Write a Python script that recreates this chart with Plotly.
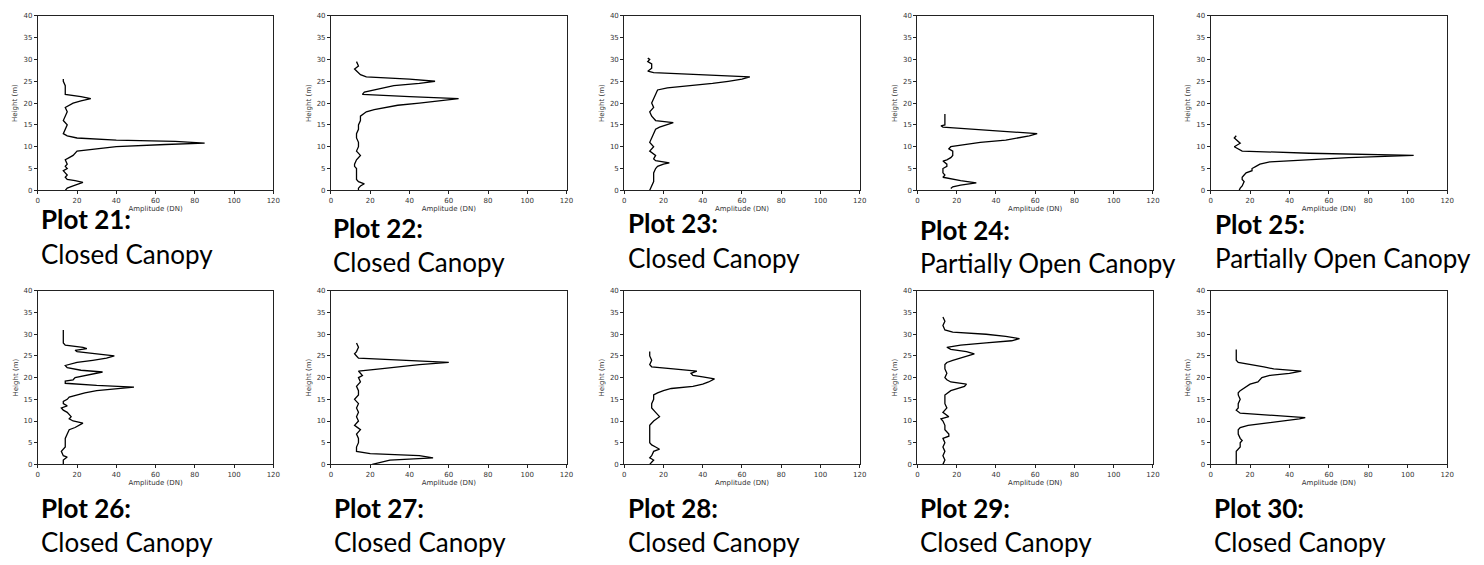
import plotly.graph_objects as go

# ---------------- data ----------------
plot_ids = ["21", "22", "23", "24", "25", "26", "27", "28", "29", "30"]
canopy = ["Closed Canopy", "Closed Canopy", "Closed Canopy", "Partially Open Canopy",
          "Partially Open Canopy", "Closed Canopy", "Closed Canopy", "Closed Canopy",
          "Closed Canopy", "Closed Canopy"]

h21 = [0, 0.5, 1, 1.5, 1.8, 2.2, 2.5, 3, 3.5, 4, 4.5, 5, 5.5, 6, 7, 7.5, 8, 9, 9.5, 10, 10.5, 10.8,
       11.2, 11.5, 12, 12.5, 13, 14, 15, 16, 17, 18, 19, 20, 20.5, 21, 21.5, 22, 23, 24, 25, 25.5]
a21 = [14, 15, 18, 21, 23, 19, 15, 14, 15, 14, 13, 15, 14, 15, 14, 16, 18, 20, 30, 40, 65, 85,
       70, 40, 20, 15, 13, 14, 15, 13, 14, 15, 14, 18, 22, 27, 22, 14, 14, 14, 13, 13]

h22 = [0, 0.5, 1, 1.5, 2, 2.5, 3, 4, 5, 5.5, 6, 7, 8, 9, 10, 11, 12, 13, 14, 15, 16, 17, 18, 18.5,
       19, 19.5, 20, 20.5, 21, 21.5, 22, 22.5, 23, 23.5, 24, 24.5, 25, 25.5, 26, 26.5, 27, 27.8,
       28.5, 29.5]
a22 = [14, 14, 15, 17, 14, 13, 13, 13, 13, 12, 12, 13, 15, 13, 14, 14, 13, 13, 14, 14, 15, 15, 18, 22,
       28, 34, 45, 55, 65, 40, 16, 17, 22, 27, 32, 45, 53, 40, 18, 15, 14, 12, 14, 13]

h23 = [0, 1, 2, 3, 4, 5, 5.5, 6, 6.3, 6.8, 7.2, 8, 9, 10, 11, 12, 13, 14, 14.5, 15, 15.5, 16, 17,
       18, 19, 20, 21, 22, 23, 23.5, 24, 24.5, 25, 25.5, 26, 26.5, 27, 27.3, 28, 29, 29.5, 30, 30.3]
a23 = [13, 14, 15, 15, 15, 16, 17, 20, 23, 16, 15, 16, 13, 15, 13, 14, 15, 16, 18, 22, 25, 16, 14,
       13, 15, 14, 15, 16, 17, 22, 35, 45, 53, 60, 64, 40, 15, 12, 14, 14, 12, 13, 12]

h24 = [0.4, 0.8, 1.2, 1.7, 2.2, 2.7, 3, 3.5, 4, 5, 5.5, 6, 6.7, 7, 7.5, 8, 9, 9.5, 10, 10.5, 11,
       11.5, 12, 12.5, 13, 13.5, 14, 14.5, 14.8, 15, 16, 17.5]
a24 = [17, 18, 22, 30, 22, 15, 13, 14, 13, 13, 15, 15, 13, 15, 17, 18, 18, 16, 17, 24, 32,
       45, 52, 57, 61, 45, 25, 13, 12, 14, 14, 14]

h25 = [0, 0.5, 1, 2, 2.5, 3, 3.5, 4, 4.5, 5, 5.5, 6, 6.5, 7, 7.5, 8, 8.5, 9, 9.5, 10, 10.8, 11.5,
       12, 12.5]
a25 = [14.5, 15, 16, 17, 16, 16, 17, 18, 21, 21, 23, 25, 30, 50, 70, 103, 50, 16, 14, 12, 15, 13,
       12, 13]

h26 = [0, 1, 1.7, 2, 3, 4, 5, 6, 7, 8, 8.5, 9, 9.5, 10, 10.5, 11, 12, 12.5, 13, 13.5, 14, 14.5, 15,
       15.5, 16, 16.5, 17, 17.5, 17.8, 18.2, 18.7, 19.2, 19.5, 20, 20.5, 21, 21.3, 21.7, 22.3, 22.8,
       23.5, 24, 24.5, 25, 25.5, 26, 26.3, 26.7, 27, 27.5, 28, 29, 30, 31]
a26 = [13, 13, 15, 13, 12, 14, 14, 14, 15, 16, 19, 21, 23, 18, 16, 17, 15, 13, 12, 15, 13, 13, 15,
       16, 20, 24, 30, 45, 49, 30, 14, 14, 18, 19, 24, 30, 33, 22, 15, 14,
       20, 28, 35, 39, 30, 20, 19, 25, 23, 14, 13, 13, 13, 13]

h27 = [0, 0.5, 1, 1.5, 2, 2.5, 3, 4, 5, 6, 7, 8, 9, 10, 11, 12, 13, 14, 15, 16, 17, 18, 19, 20,
       20.5, 21, 21.5, 22, 22.5, 23, 23.5, 24, 24.5, 25, 25.5, 26, 27, 28]
a27 = [21, 25, 30, 52, 45, 20, 13, 13, 14, 14, 13, 15, 12, 14, 13, 14, 13, 14, 12, 14, 14, 13, 15, 14,
       16, 15, 14, 25, 35, 45, 60, 40, 14, 13, 12, 13, 14, 13]

h28 = [0, 0.5, 1, 1.5, 2, 3, 3.5, 4, 4.5, 5, 6, 7, 8, 9, 10, 11, 12, 13, 14, 15, 16, 16.5, 17,
       17.5, 18, 18.5, 19, 19.7, 20.2, 20.5, 21, 21.5, 22, 22.5, 23, 24, 25, 26]
a28 = [13, 14, 15, 13, 14, 15, 18, 16, 14, 13, 13, 13, 13, 13, 15, 18, 16, 14, 14, 15, 15, 17, 20,
       24, 35, 40, 43, 46, 40, 35, 34, 37, 25, 14, 13, 14, 13, 13]

h29 = [0, 1, 2, 3, 4, 5, 6, 6.5, 7, 8, 9, 10, 10.5, 11, 12, 13, 14, 15, 16, 17, 17.5, 18, 18.5,
       19, 19.5, 20, 21, 22, 23, 23.5, 24, 24.5, 25, 25.5, 26, 26.5, 27, 27.5, 28, 28.5, 29, 29.5,
       30, 30.5, 31, 32, 33, 34]
a29 = [13, 14, 13, 14, 13, 14, 13, 16, 16, 14, 14, 13, 12, 16, 13, 15, 14, 14, 14, 17, 20, 24, 25,
       17, 15, 14, 15, 14, 14, 15, 18, 22, 25, 29, 25, 17, 15, 22, 35, 48, 52, 45,
       35, 18, 14, 13, 14, 13]

h30 = [0, 1, 2, 3, 4, 5, 5.5, 6, 7, 8, 8.5, 9, 9.5, 10, 10.5, 10.8, 11.3, 11.8, 12.5, 13, 14, 15,
       16, 16.5, 17, 18, 18.5, 19, 19.5, 20, 20.5, 21, 21.5, 22, 22.5, 23, 23.5, 24, 25, 26, 26.5]
a30 = [13, 13, 13, 13, 15, 15, 16, 15, 14, 14, 15, 19, 28, 38, 45, 48, 30, 15, 13, 14, 14, 15,
       14, 14, 15, 18, 20, 24, 25, 26, 30, 40, 46, 32, 27, 20, 14, 13, 13, 13, 13]

heights = [h21, h22, h23, h24, h25, h26, h27, h28, h29, h30]
amps = [a21, a22, a23, a24, a25, a26, a27, a28, a29, a30]

x_ticks = [0, 20, 40, 60, 80, 100, 120]
y_ticks = [0, 5, 10, 15, 20, 25, 30, 35, 40]

# ---------------- layout ----------------
W, H = 1484, 565
col_left = [36, 331, 626, 921, 1216]
col_right = [273, 568, 863, 1158, 1454]
row_top = [12, 291]
row_bot = [189, 467]
label_x = [37, 331, 628, 922, 1218, 37, 332, 628, 922, 1217]
label_y1 = [218, 227, 222, 229, 223, 511, 511, 511, 511, 511]
label_y2 = [254, 262, 258, 263, 258, 546, 546, 546, 546, 546]

fig = go.Figure()
annotations = []
layout_axes = {}
tick_font = dict(family="DejaVu Sans", size=7, color="#333")
for i in range(10):
    r, c = divmod(i, 5)
    n = i + 1
    xa = "x" if n == 1 else f"x{n}"
    ya = "y" if n == 1 else f"y{n}"
    fig.add_trace(go.Scatter(x=amps[i], y=heights[i], mode="lines",
                             line=dict(color="black", width=1.3),
                             xaxis=xa, yaxis=ya, showlegend=False, hoverinfo="x+y"))
    axcommon = dict(showline=True, linecolor="#222", linewidth=1, mirror=True,
                    ticks="outside", ticklen=3, tickwidth=1, tickcolor="#222",
                    showgrid=False, zeroline=False, tickfont=tick_font)
    layout_axes["xaxis" if n == 1 else f"xaxis{n}"] = dict(
        axcommon, domain=[col_left[c] / W, col_right[c] / W], range=[0, 120],
        tickvals=x_ticks, anchor=ya,
        title=dict(text="Amplitude (DN)", font=tick_font, standoff=2))
    layout_axes["yaxis" if n == 1 else f"yaxis{n}"] = dict(
        axcommon, domain=[1 - row_bot[r] / H, 1 - row_top[r] / H], range=[0, 40],
        tickvals=y_ticks, anchor=xa,
        title=dict(text="Height (m)", font=tick_font, standoff=4))
    annotations.append(dict(text=f"<b>Plot {plot_ids[i]}:</b>", x=label_x[i] / W, y=1 - label_y1[i] / H,
                            xref="paper", yref="paper", xanchor="left", yanchor="middle",
                            showarrow=False, font=dict(family="Lato", size=26, color="black")))
    annotations.append(dict(text=canopy[i], x=label_x[i] / W, y=1 - label_y2[i] / H,
                            xref="paper", yref="paper", xanchor="left", yanchor="middle",
                            showarrow=False, font=dict(family="Lato", size=26, color="black")))

fig.update_layout(width=W, height=H, margin=dict(l=0, r=0, t=0, b=0),
                  paper_bgcolor="white", plot_bgcolor="white",
                  annotations=annotations, **layout_axes)

fig.write_html("out.html", config={"displayModeBar": False},
               post_script="document.body.style.margin='0';document.body.style.overflow='hidden';")
